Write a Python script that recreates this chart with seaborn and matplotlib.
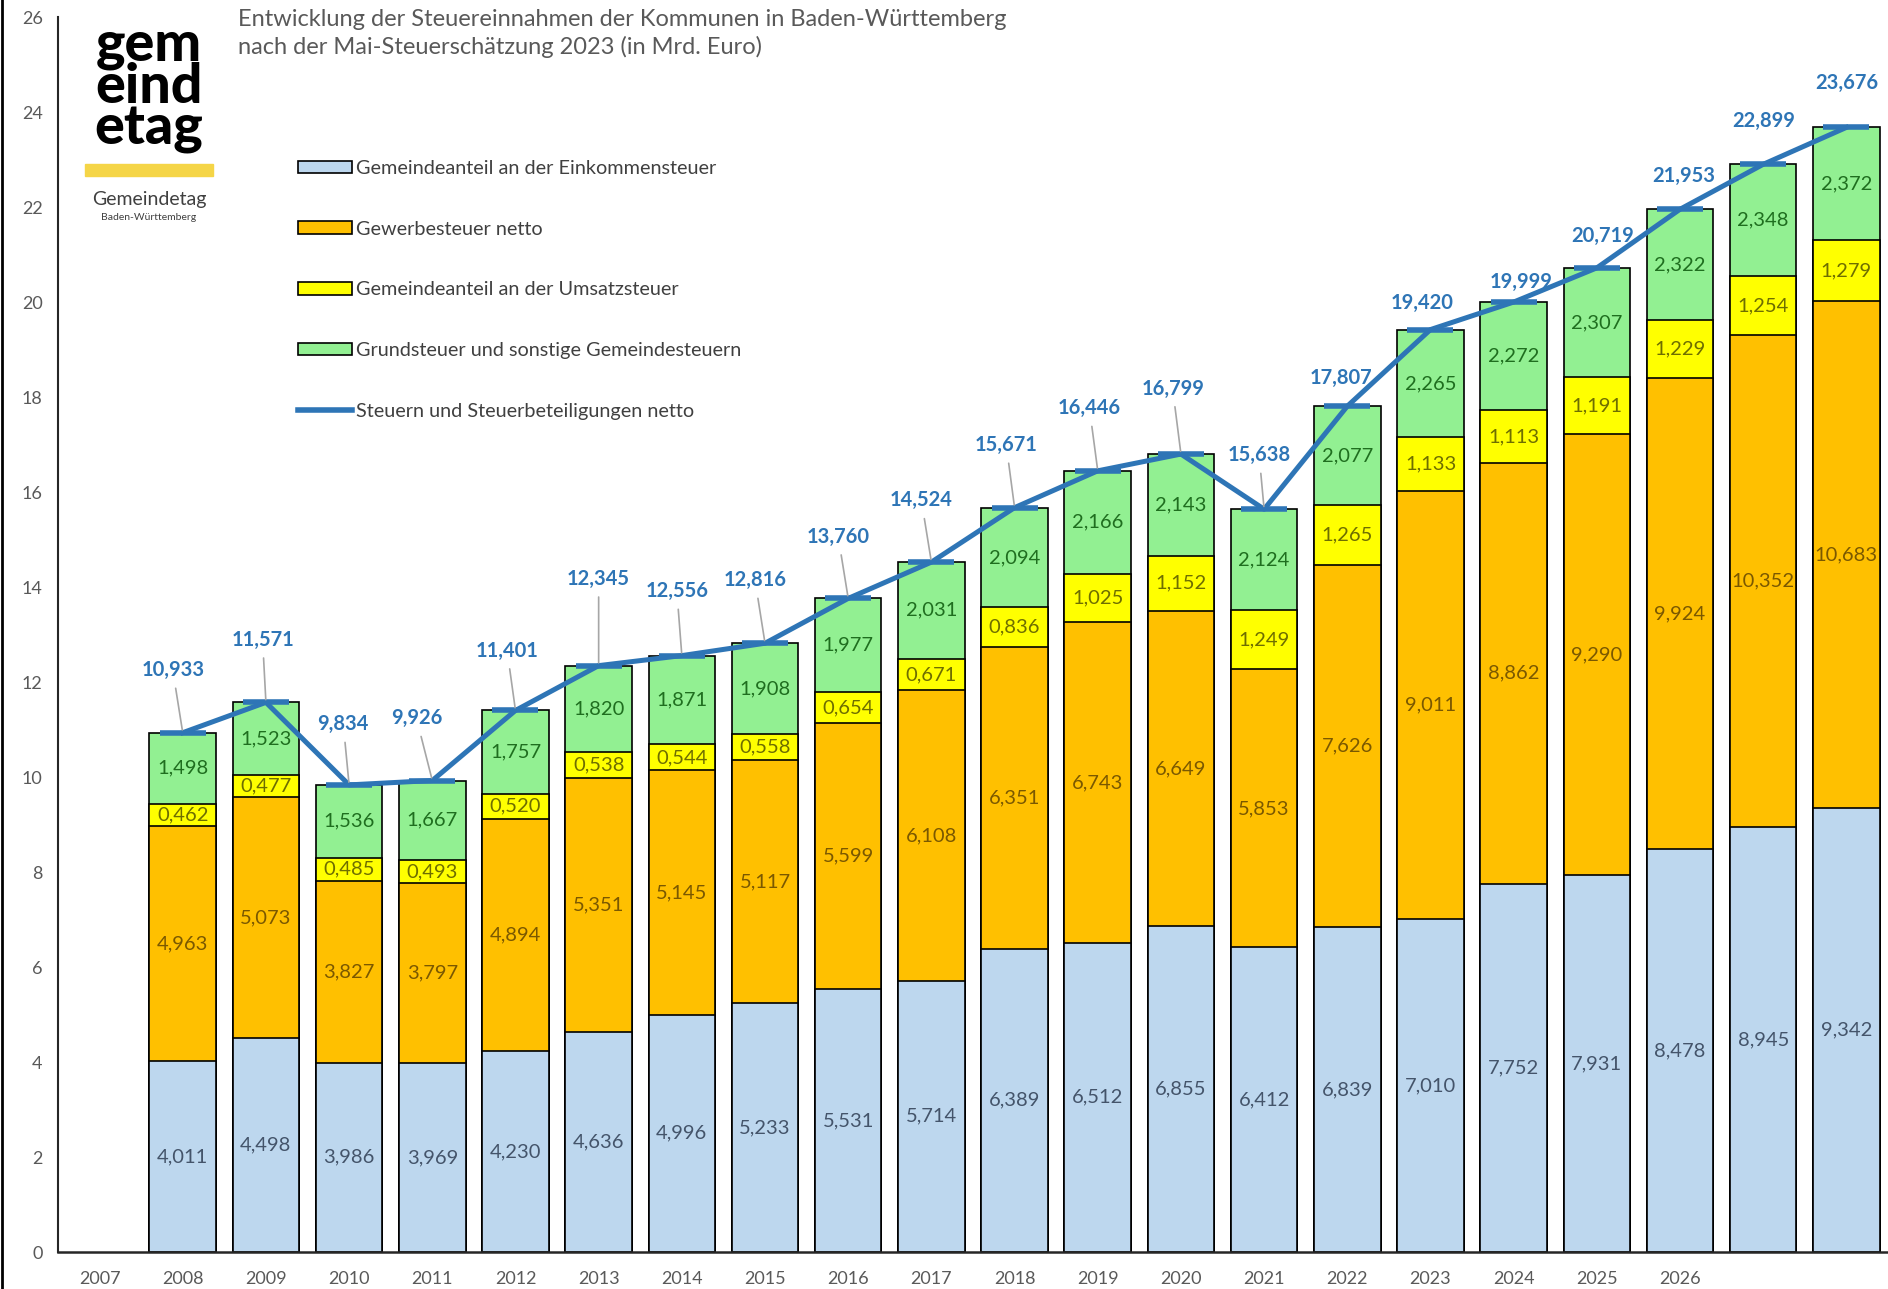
import pandas as pd
import seaborn as sns
import matplotlib.pyplot as plt
from matplotlib.patches import Patch, Rectangle
from matplotlib.lines import Line2D

# values in Mrd. Euro
years = [str(y) for y in range(2008, 2029)]
tick_labels = [str(y) for y in range(2007, 2027)] + ["", ""]
einkommensteuer = [4.011, 4.498, 3.986, 3.969, 4.230, 4.636, 4.996, 5.233, 5.531, 5.714, 6.389,
                   6.512, 6.855, 6.412, 6.839, 7.010, 7.752, 7.931, 8.478, 8.945, 9.342]
gewerbesteuer = [4.963, 5.073, 3.827, 3.797, 4.894, 5.351, 5.145, 5.117, 5.599, 6.108, 6.351,
                 6.743, 6.649, 5.853, 7.626, 9.011, 8.862, 9.290, 9.924, 10.352, 10.683]
umsatzsteuer = [0.462, 0.477, 0.485, 0.493, 0.520, 0.538, 0.544, 0.558, 0.654, 0.671, 0.836,
                1.025, 1.152, 1.249, 1.265, 1.133, 1.113, 1.191, 1.229, 1.254, 1.279]
grundsteuer = [1.498, 1.523, 1.536, 1.667, 1.757, 1.820, 1.871, 1.908, 1.977, 2.031, 2.094,
               2.166, 2.143, 2.124, 2.077, 2.265, 2.272, 2.307, 2.322, 2.348, 2.372]
gesamt = [10.933, 11.571, 9.834, 9.926, 11.401, 12.345, 12.556, 12.816, 13.760, 14.524, 15.671,
          16.446, 16.799, 15.638, 17.807, 19.420, 19.999, 20.719, 21.953, 22.899, 23.676]

# placement of the total labels above the line (layout only)
label_dy = [1.32, 1.32, 1.28, 1.31, 1.26, 1.83, 1.36, 1.33, 1.30, 1.30, 1.32,
            1.32, 1.38, 1.14, 0.60, 0.55, 0.43, 0.67, 0.71, 0.92, 0.93]
label_dx = [-0.12, -0.04, -0.07, -0.19, -0.10, 0.0, -0.06, -0.12, -0.12, -0.12, -0.10,
            -0.10, -0.10, -0.06, -0.07, -0.10, 0.09, 0.07, 0.04, 0.0, 0.0]

names = ["Gemeindeanteil an der Einkommensteuer", "Gewerbesteuer netto",
         "Gemeindeanteil an der Umsatzsteuer", "Grundsteuer und sonstige Gemeindesteuern"]
colors = ["#BDD7EE", "#FFC000", "#FFFF00", "#92F092"]
text_colors = ["#44546A", "#7A5800", "#6E6E00", "#1F6E1F"]
line_color = "#2E75B6"

df = pd.DataFrame({"year": years, "ek": einkommensteuer, "gew": gewerbesteuer,
                   "ust": umsatzsteuer, "grund": grundsteuer, "total": gesamt})
layers = ["ek", "gew", "ust", "grund"]
cum = df[layers].cumsum(axis=1)
for c in layers:
    df["cum_" + c] = cum[c]

order = ["2007"] + years

plt.rcParams["font.family"] = ["Lato", "DejaVu Sans"]
fig = plt.figure(figsize=(18.88, 12.89), dpi=100)
ax = fig.add_axes([0.0307, 0.0287, 0.9693, 0.9581])

# stacked bars: draw cumulative heights from top layer down
for c, col in reversed(list(zip(layers, colors))):
    sns.barplot(data=df, x="year", y="cum_" + c, order=order, color=col, saturation=1,
                edgecolor="black", linewidth=1.2, width=0.8, errorbar=None, ax=ax)

sns.pointplot(data=df, x="year", y="total", order=order, color=line_color, marker="_",
              markersize=33, markeredgewidth=4, linewidth=3.6, errorbar=None, ax=ax)

# segment labels
for i in range(len(years)):
    pos = order.index(years[i])
    bottom = 0
    for c, tc in zip(layers, text_colors):
        v = df.loc[i, c]
        ax.text(pos, bottom + v / 2, f"{v:.3f}".replace(".", ","), ha="center", va="center",
                fontsize=14.5, color=tc)
        bottom += v
    t = gesamt[i]
    arrow = dict(arrowstyle="-", color="#A6A6A6", lw=1.2, shrinkA=4, shrinkB=2) if label_dy[i] > 1 else None
    ax.annotate(f"{t:.3f}".replace(".", ","), xy=(pos, t), xytext=(pos + label_dx[i], t + label_dy[i]),
                textcoords="data", ha="center", va="center", fontsize=14.5, fontweight="bold",
                color=line_color, arrowprops=arrow)

ax.set_xlim(-0.5, 21.5)
ax.set_ylim(0, 26)
ax.set_yticks(range(0, 27, 2))
ax.set_xticks(range(len(order)))
ax.set_xticklabels(tick_labels)
ax.tick_params(axis="x", length=0, pad=14, labelsize=13, labelcolor="#595959")
ax.tick_params(axis="y", length=0, pad=11, labelsize=13, labelcolor="#595959")
ax.set_xlabel("")
ax.set_ylabel("")
for s in ["top", "right"]:
    ax.spines[s].set_visible(False)
ax.spines["left"].set_color("#262626")
ax.spines["left"].set_linewidth(1.5)
ax.spines["bottom"].set_color("#262626")
ax.spines["bottom"].set_linewidth(1.8)

# legend
handles = [Patch(facecolor=c, edgecolor="black", linewidth=1.2) for c in colors]
handles.append(Line2D([0], [0], color=line_color, lw=4))
fig.legend(handles, names + ["Steuern und Steuerbeteiligungen netto"], loc="upper left",
           bbox_to_anchor=(288 / 1888, 1 - 150 / 1289), frameon=False, fontsize=14.3,
           handlelength=2.7, handleheight=0.6, handletextpad=0.2, labelspacing=2.2,
           borderpad=0, labelcolor="#404040")

# title
fig.text(238 / 1888, 1 - 9 / 1289,
         "Entwicklung der Steuereinnahmen der Kommunen in Baden-Württemberg\n"
         "nach der Mai-Steuerschätzung 2023 (in Mrd. Euro)",
         ha="left", va="top", fontsize=17, color="#595959", linespacing=1.35)

# logo
fig.text(149 / 1888, 1 - 87 / 1289, "gem\neind\netag", ha="center", va="center",
         fontsize=40, fontweight="black", color="black", linespacing=0.8)
fig.patches.append(Rectangle((85 / 1888, 1 - 176 / 1289), 128 / 1888, 12 / 1289,
                             transform=fig.transFigure, color="#F5D547"))
fig.text(149 / 1888, 1 - 199 / 1289, "Gemeindetag", ha="center", va="center",
         fontsize=14, color="#404040")
fig.text(149 / 1888, 1 - 218 / 1289, "Baden-Württemberg", ha="center", va="center",
         fontsize=7.5, color="#404040")
fig.lines.append(Line2D([0.001, 0.001], [0, 1], transform=fig.transFigure, color="black", lw=2))

fig.savefig("out.png", dpi=100)
